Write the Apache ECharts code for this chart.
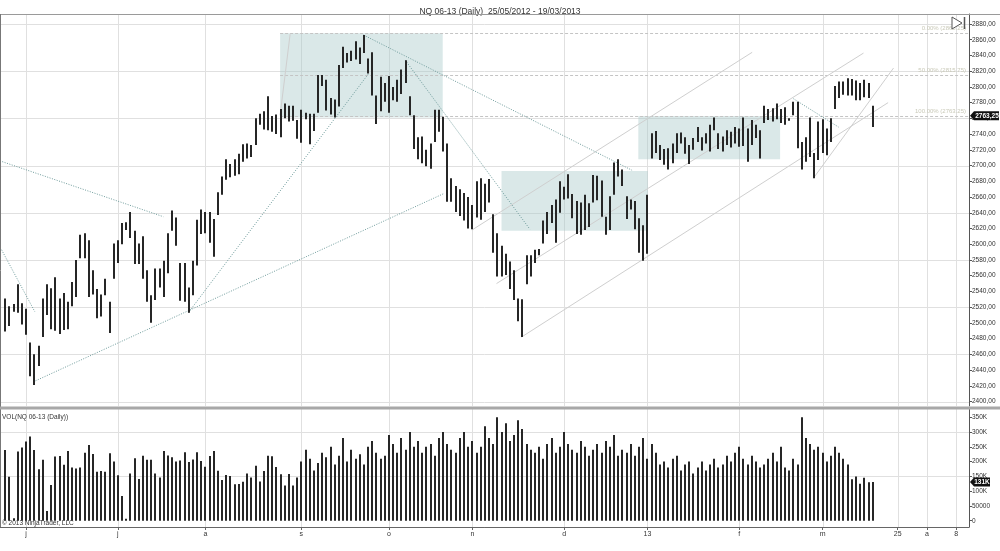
<!DOCTYPE html>
<html><head><meta charset="utf-8">
<script src="https://cdn.jsdelivr.net/npm/echarts@6/dist/echarts.min.js"></script>
<style>html,body{margin:0;padding:0;background:#fff}#c{width:1000px;height:551px}</style>
</head><body><div id="c"></div>
<script>
// ---------- DATA ----------
const chartTitle = 'NQ 06-13 (Daily)  25/05/2012 - 19/03/2013';
const volumeTitle = 'VOL(NQ 06-13 (Daily))';
const copyright = '\u00a9 2013 NinjaTrader, LLC';

// daily highs / lows, one per trading bar (bar 0 = 25/05/2012 ... last = 19/03/2013)
const highs = [
2531,2521,2524,2549,2525,2518,2475,2460,2471,2531,
2549,2544,2558,2531,2538,2527,2552,2580,2612,2614,
2605,2567,2543,2536,2556,2527,2601,2605,2627,2628,
2641,2617,2601,2610,2567,2535,2569,2569,2579,2614,
2643,2634,2576,2576,2545,2579,2631,2644,2641,2641,
2632,2666,2686,2708,2702,2708,2715,2727,2728,2726,
2760,2766,2769,2788,2763,2765,2772,2779,2776,2776,
2758,2771,2767,2766,2766,2815,2815,2809,2786,2784,
2828,2851,2843,2846,2858,2850,2866,2836,2844,2789,
2813,2805,2814,2800,2809,2822,2834,2788,2764,2736,
2737,2720,2728,2771,2771,2762,2728,2684,2674,2670,
2665,2660,2650,2680,2684,2677,2683,2638,2614,2598,
2588,2578,2567,2531,2530,2586,2586,2593,2594,2630,
2641,2650,2657,2680,2673,2689,2664,2655,2653,2663,
2652,2688,2687,2681,2635,2661,2704,2708,2695,2661,
2657,2655,2633,2624,2663,2741,2744,2726,2721,2722,
2728,2741,2742,2736,2726,2735,2749,2736,2741,2752,
2761,2741,2737,2745,2743,2749,2747,2761,2747,2758,
2752,2745,2776,2772,2773,2779,2772,2774,2760,2781,
2781,2730,2736,2761,2716,2756,2759,2747,2760,2801,
2807,2807,2811,2810,2808,2805,2809,2805,2776];
const lows = [
2489,2496,2514,2513,2498,2485,2432,2421,2445,2482,
2510,2492,2490,2486,2491,2492,2521,2533,2582,2582,
2533,2536,2506,2508,2535,2487,2556,2576,2600,2618,
2608,2575,2575,2556,2527,2500,2529,2545,2533,2563,
2617,2598,2528,2527,2513,2535,2573,2613,2614,2602,
2584,2637,2663,2682,2685,2687,2689,2705,2709,2711,
2726,2752,2746,2745,2743,2740,2736,2760,2756,2757,
2734,2729,2759,2727,2744,2767,2801,2770,2765,2761,
2775,2824,2831,2833,2835,2829,2843,2817,2789,2753,
2769,2781,2767,2783,2781,2791,2805,2764,2721,2708,
2703,2699,2696,2730,2743,2718,2654,2654,2641,2636,
2630,2620,2619,2634,2631,2641,2653,2589,2559,2559,
2561,2543,2529,2502,2482,2549,2559,2576,2586,2601,
2613,2627,2602,2640,2657,2658,2633,2613,2612,2618,
2622,2653,2656,2635,2612,2618,2663,2686,2674,2632,
2644,2619,2589,2579,2588,2709,2716,2707,2701,2695,
2703,2716,2728,2715,2702,2720,2730,2719,2728,2718,
2745,2721,2718,2726,2723,2728,2724,2725,2705,2726,
2735,2709,2754,2758,2756,2759,2754,2752,2757,2764,
2722,2695,2705,2711,2684,2707,2716,2713,2730,2772,
2786,2790,2789,2789,2783,2783,2787,2786,2749];
// daily volume, thousands of contracts
const volumes = [
239,149,8,234,248,268,285,239,174,206,
33,121,217,219,189,236,180,177,180,230,
256,226,166,168,166,228,200,154,84,7,
160,211,141,220,206,206,160,146,236,221,
215,200,204,232,199,207,232,202,183,219,
236,169,138,155,151,123,124,132,160,146,
186,133,168,220,218,182,157,119,158,119,
146,200,240,210,170,195,230,215,250,190,
220,280,200,240,210,225,190,250,270,230,
210,220,290,260,230,280,240,300,250,270,
230,250,260,220,280,300,260,240,230,280,
300,250,270,230,250,320,280,260,350,300,
330,270,290,340,310,260,240,230,250,210,
260,280,230,250,300,260,240,230,270,250,
220,240,260,230,270,250,290,220,240,230,
260,220,250,280,210,260,230,190,200,180,
210,220,170,190,200,160,180,200,170,190,
210,180,190,220,200,230,250,210,190,220,
200,180,190,210,230,200,250,180,170,210,
190,350,280,260,240,250,230,200,220,250,
230,210,190,140,150,125,145,130,131];

// time axis: bar index of each month / week label
const monthTickBars = [5, 27, 48, 71, 92, 112, 134, 154, 176, 196, 214, 221, 228];
const monthTickLabels = ['j','j','a','s','o','n','d','13','f','m','25','a','8'];

const priceTicks = [2400,2420,2440,2460,2480,2500,2520,2540,2560,2580,2600,2620,2640,2660,2680,2700,2720,2740,2760,2780,2800,2820,2840,2860,2880];
const priceGridLevels = [2400,2460,2520,2580,2640,2700,2760,2820,2880];
const volumeTicks = [0,50,100,150,200,250,300,350];
const volumeGridLevels = [150,300];

const lastPrice = 2763.25;
const lastVolume = 131;

// drawing objects (bar index, price)
const zoneBoxes = [   // [barStart, priceTop, barEnd, priceBottom]
  [65.9, 2868.25, 104.9, 2761],
  [119.0, 2693, 154.1, 2617],
  [151.8, 2763, 185.8, 2708]
];
const dottedTrendLines = [  // [bar1, price1, bar2, price2]
  [-1.3, 2706, 37.9, 2635],
  [-0.9, 2593, 7.1, 2514],
  [6.7, 2425, 105.0, 2664],
  [43.9, 2513, 87.0, 2816],
  [85.9, 2866, 150.3, 2694],
  [95.9, 2834, 125.8, 2619],
  [189.0, 2785, 199.8, 2749]
];
const channelLines = [
  [193.8, 2684, 213.0, 2824],
  [111.9, 2618, 179.1, 2844],
  [117.8, 2550, 205.8, 2843],
  [123.8, 2482, 211.7, 2780],
  [65.9, 2764, 68.3, 2867]
];
const fibStartBar = 65.9;
const fibLevels = [2868.25, 2815.75, 2763.25];
const fibNames = ['0.00%', '50.00%', '100.00%'];

// ---------- CHART ----------
const chart = echarts.init(document.getElementById('c'), null, {renderer:'canvas'});
const X_MIN = -1.271, X_MAX = 231.1;
const FONT = 'Arial, "Liberation Sans", sans-serif';
const fmtPrice = v => v.toFixed(2).replace('.', ',');
const fmtVol = v => v === 0 ? '0' : (v === 50 ? '50000' : v + 'K');

function vLines(grid){
  return {type:'custom', xAxisIndex:grid, yAxisIndex:grid, silent:true, z:1,
    data: monthTickBars.map(v=>[v]),
    renderItem:(p,api)=>{
      const cs = p.coordSys; const x = Math.round(api.coord([api.value(0), grid?0:2600])[0]) + 0.5;
      return {type:'line', shape:{x1:x,y1:cs.y,x2:x,y2:cs.y+cs.height}, style:{stroke:'#e0e0e0', lineWidth:1}};
    }};
}
function hLines(grid, levels){
  return {type:'custom', xAxisIndex:grid, yAxisIndex:grid, silent:true, z:1,
    data: levels.map(v=>[0, v]),
    renderItem:(p,api)=>{
      const cs = p.coordSys; const y = Math.round(api.coord([0, api.value(1)])[1]) + 0.5;
      return {type:'line', shape:{x1:cs.x,y1:y,x2:cs.x+cs.width,y2:y}, style:{stroke:'#e0e0e0', lineWidth:1}};
    }};
}
function segSeries(list, style, z){
  return {type:'custom', xAxisIndex:0, yAxisIndex:0, silent:true, z:z,
    data: list,
    renderItem:(p,api)=>{
      const a = api.coord([api.value(0), api.value(1)]);
      const b = api.coord([api.value(2), api.value(3)]);
      return {type:'line', shape:{x1:a[0],y1:a[1],x2:b[0],y2:b[1]}, style:style};
    }};
}

const option = {
  animation:false,
  backgroundColor:'#fff',
  title:{text:chartTitle, left:'center', top:2, textStyle:{fontSize:8.5, fontWeight:'normal', color:'#333', fontFamily:FONT}},
  grid:[
    {left:0, top:14, width:969, height:392},
    {left:0, top:409, width:969, height:118}
  ],
  xAxis:[
    {gridIndex:0, type:'value', min:X_MIN, max:X_MAX, show:false, axisLine:{show:false, onZero:false}, axisTick:{show:false}, axisLabel:{show:false}, splitLine:{show:false}},
    {gridIndex:1, type:'value', min:X_MIN, max:X_MAX, position:'bottom',
      axisLine:{show:true, onZero:false, lineStyle:{color:'#666'}},
      axisTick:{show:true, customValues:monthTickBars, length:3, lineStyle:{color:'#666'}},
      axisLabel:{customValues:monthTickBars, formatter:v=>{const i=monthTickBars.indexOf(v);return i>=0?monthTickLabels[i]:'';}, fontSize:7, color:'#333', margin:4, fontFamily:FONT},
      splitLine:{show:false}}
  ],
  yAxis:[
    {gridIndex:0, type:'value', position:'right', min:2394.3, max:2892.7,
      axisLine:{show:true, onZero:false, lineStyle:{color:'#555'}},
      axisTick:{show:true, customValues:priceTicks, length:3, lineStyle:{color:'#555'}},
      axisLabel:{customValues:priceTicks, formatter:fmtPrice, fontSize:6.5, color:'#333', margin:3, fontFamily:FONT},
      splitLine:{show:false}},
    {gridIndex:1, type:'value', position:'right', min:-21.3, max:378.1,
      axisLine:{show:true, onZero:false, lineStyle:{color:'#555'}},
      axisTick:{show:true, customValues:volumeTicks, length:3, lineStyle:{color:'#555'}},
      axisLabel:{customValues:volumeTicks, formatter:fmtVol, fontSize:6.5, color:'#333', margin:3, fontFamily:FONT},
      splitLine:{show:false}}
  ],
  series:[
    vLines(0), vLines(1),
    hLines(0, priceGridLevels), hLines(1, volumeGridLevels),
    // zone boxes
    {type:'custom', xAxisIndex:0, yAxisIndex:0, silent:true, z:2, data:zoneBoxes,
      renderItem:(p,api)=>{
        const a = api.coord([api.value(0), api.value(1)]);
        const b = api.coord([api.value(2), api.value(3)]);
        return {type:'rect', shape:{x:a[0], y:a[1], width:b[0]-a[0], height:b[1]-a[1]}, style:{fill:'rgba(168,200,200,0.42)'}};
      }},
    // fibonacci levels
    {type:'custom', xAxisIndex:0, yAxisIndex:0, silent:true, z:3, data:fibLevels.map((v,i)=>[fibStartBar, v, i]),
      renderItem:(p,api)=>{
        const cs = p.coordSys;
        const a = api.coord([api.value(0), api.value(1)]);
        const y = Math.round(a[1]) + 0.5;
        const i = api.value(2);
        return {type:'group', children:[
          {type:'line', shape:{x1:a[0], y1:y, x2:cs.x+cs.width, y2:y}, style:{stroke:'#c4c4c4', lineWidth:1, lineDash:[3,2]}},
          {type:'text', style:{text:fibNames[i]+' ('+fibLevels[i].toFixed(2)+')', x:cs.x+cs.width-3, y:y-2, align:'right', verticalAlign:'bottom', fill:'#c9c9b8', font:'6px '+FONT}}
        ]};
      }},
    segSeries(channelLines, {stroke:'#cfcfcf', lineWidth:1}, 4),
    segSeries(dottedTrendLines, {stroke:'#6f9c9c', lineWidth:1, lineDash:[1,1.5]}, 4),
    // price bars (high-low)
    {type:'custom', xAxisIndex:0, yAxisIndex:0, z:5, data:highs.map((h,i)=>[i, h, lows[i]]),
      renderItem:(p,api)=>{
        const a = api.coord([api.value(0), api.value(1)]);
        const b = api.coord([api.value(0), api.value(2)]);
        return {type:'rect', shape:{x:Math.round(a[0])-1, y:a[1], width:2, height:Math.max(1, b[1]-a[1])}, style:{fill:'#262626'}};
      }},
    // volume bars
    {type:'custom', xAxisIndex:1, yAxisIndex:1, z:5, data:volumes.map((v,i)=>[i, v]),
      renderItem:(p,api)=>{
        const a = api.coord([api.value(0), api.value(1)]);
        const b = api.coord([api.value(0), 0]);
        return {type:'rect', shape:{x:Math.round(a[0])-1, y:a[1], width:2, height:Math.max(1, b[1]-a[1])}, style:{fill:'#262626'}};
      }},
    // last price tag
    {type:'custom', xAxisIndex:0, yAxisIndex:0, z:10, clip:false, data:[[highs.length-1, lastPrice]],
      renderItem:(p,api)=>{
        const cs = p.coordSys; const y = api.coord([api.value(0), api.value(1)])[1];
        const x0 = cs.x + cs.width + 1;
        return {type:'group', children:[
          {type:'polygon', shape:{points:[[x0,y],[x0+4,y-4.5],[x0+29,y-4.5],[x0+29,y+4.5],[x0+4,y+4.5]]}, style:{fill:'#111'}},
          {type:'text', style:{text:fmtPrice(lastPrice), x:x0+17, y:y+0.5, align:'center', verticalAlign:'middle', fill:'#fff', font:'bold 6.5px '+FONT}}
        ]};
      }},
    {type:'custom', xAxisIndex:1, yAxisIndex:1, z:10, clip:false, data:[[volumes.length-1, lastVolume]],
      renderItem:(p,api)=>{
        const cs = p.coordSys; const y = api.coord([api.value(0), api.value(1)])[1];
        const x0 = cs.x + cs.width + 1;
        return {type:'group', children:[
          {type:'polygon', shape:{points:[[x0,y],[x0+4,y-4.5],[x0+20,y-4.5],[x0+20,y+4.5],[x0+4,y+4.5]]}, style:{fill:'#111'}},
          {type:'text', style:{text:lastVolume+'K', x:x0+12, y:y+0.5, align:'center', verticalAlign:'middle', fill:'#fff', font:'bold 6.5px '+FONT}}
        ]};
      }}
  ],
  graphic:[
    {type:'line', shape:{x1:0, y1:14.5, x2:1000, y2:14.5}, style:{stroke:'#9a9a9a', lineWidth:1}, z:20},
    {type:'line', shape:{x1:0.5, y1:14, x2:0.5, y2:527}, style:{stroke:'#777', lineWidth:1}, z:20},
    {type:'rect', shape:{x:0, y:406.5, width:1000, height:3}, style:{fill:'#a8a8a8'}, z:20},
    {type:'line', shape:{x1:0, y1:527.5, x2:969, y2:527.5}, style:{stroke:'#666', lineWidth:1}, z:20},
    {type:'text', left:2, top:414, style:{text:volumeTitle, fill:'#333', font:'6.5px '+FONT}, z:20},
    {type:'text', left:2, top:520, style:{text:copyright, fill:'#333', font:'6.5px '+FONT}, z:20},
    {type:'polygon', shape:{points:[[952,17],[952,29],[962,23]]}, style:{fill:'#fff', stroke:'#555', lineWidth:1}, z:20},
    {type:'line', shape:{x1:964.5, y1:17, x2:964.5, y2:29}, style:{stroke:'#555', lineWidth:1.5}, z:20}
  ]
};
chart.setOption(option);
</script></body></html>
